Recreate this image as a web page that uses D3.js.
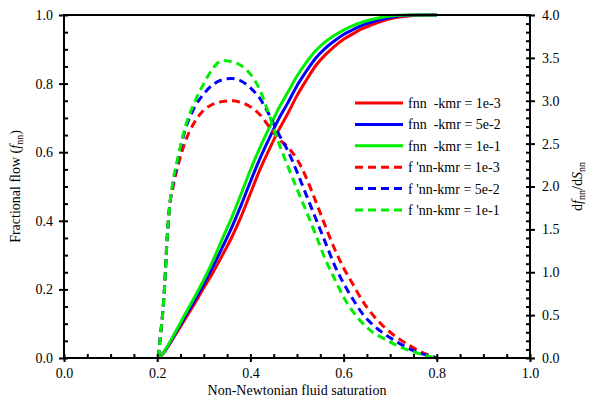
<!DOCTYPE html>
<html>
<head>
<meta charset="utf-8">
<script src="https://cdn.jsdelivr.net/npm/d3@7"></script>
<style>
  html, body { margin: 0; padding: 0; background: #fff; }
</style>
</head>
<body>
<svg id="chart" width="589" height="402"></svg>
<script>
// ---------------- data ----------------
const satSolid = [0.2025,0.21,0.22,0.24,0.26,0.28,0.30,0.32,0.34,0.36,0.38,0.40,0.42,0.44,0.46,0.48,0.50,0.52,0.54,0.56,0.58,0.60,0.62,0.64,0.66,0.68,0.70,0.72,0.74,0.76,0.78,0.80];
const fnn_1e3 = [0,0.009,0.027,0.070,0.114,0.158,0.205,0.250,0.300,0.352,0.412,0.480,0.548,0.607,0.663,0.712,0.765,0.810,0.852,0.883,0.908,0.929,0.945,0.960,0.971,0.981,0.989,0.994,0.997,0.999,1.0,1.0];
const fnn_5e2 = [0,0.0095,0.028,0.074,0.121,0.167,0.216,0.267,0.323,0.381,0.445,0.514,0.580,0.639,0.695,0.743,0.794,0.836,0.874,0.902,0.924,0.943,0.957,0.970,0.979,0.987,0.993,0.997,0.999,1.0,1.0,1.0];
const fnn_1e1 = [0,0.010,0.030,0.078,0.128,0.177,0.228,0.285,0.348,0.410,0.478,0.548,0.612,0.670,0.726,0.774,0.822,0.862,0.896,0.921,0.940,0.956,0.969,0.979,0.987,0.993,0.997,0.999,1.0,1.0,1.0,1.0];

const satDeriv = [0.2025,0.2046,0.2117,0.2167,0.2203,0.2253,0.235,0.245,0.26,0.28,0.30,0.32,0.34,0.36,0.38,0.40,0.42,0.44,0.46,0.48,0.50,0.52,0.54,0.56,0.58,0.60,0.62,0.64,0.66,0.68,0.70,0.72,0.74,0.76,0.78,0.80];
const dfnn_1e3 = [0,0.13,0.52,0.91,1.30,1.69,2.02,2.25,2.52,2.75,2.89,2.96,2.99,3.00,2.98,2.93,2.84,2.70,2.56,2.46,2.32,2.10,1.83,1.55,1.28,1.05,0.86,0.67,0.52,0.40,0.30,0.22,0.15,0.09,0.04,0];
const dfnn_5e2 = [0,0.13,0.52,0.91,1.30,1.69,2.06,2.33,2.66,2.92,3.08,3.19,3.245,3.26,3.23,3.15,3.03,2.84,2.62,2.42,2.17,1.90,1.63,1.36,1.09,0.87,0.685,0.52,0.40,0.31,0.235,0.17,0.11,0.065,0.03,0];
const dfnn_1e1 = [0,0.13,0.52,0.91,1.30,1.69,2.09,2.35,2.69,2.98,3.20,3.38,3.47,3.455,3.41,3.31,3.13,2.84,2.52,2.24,1.97,1.71,1.44,1.16,0.93,0.71,0.54,0.41,0.31,0.245,0.185,0.132,0.09,0.055,0.025,0];

const legendLabels = ["fnn  -kmr = 1e-3","fnn  -kmr = 5e-2","fnn  -kmr = 1e-1","f 'nn-kmr = 1e-3","f 'nn-kmr = 5e-2","f 'nn-kmr = 1e-1"];
const xTicks = [0,0.2,0.4,0.6,0.8,1.0];
const yLeftTicks = [0,0.2,0.4,0.6,0.8,1.0];
const yRightTicks = [0,0.5,1.0,1.5,2.0,2.5,3.0,3.5,4.0];

// ---------------- layout ----------------
const FONT = "Liberation Serif";
const colors = ["#ff0000","#0000ff","#00ee00"];
const L = 64, R = 530, T = 15, B = 358;
const svg = d3.select("#chart").attr("font-family", FONT);
const x = d3.scaleLinear().domain([0,1]).range([L,R]);
const yL = d3.scaleLinear().domain([0,1]).range([B,T]);
const yR = d3.scaleLinear().domain([0,4]).range([B,T]);

const series = [
  {s: satSolid, v: fnn_1e3, y: yL, c: colors[0], dash: null},
  {s: satSolid, v: fnn_5e2, y: yL, c: colors[1], dash: null},
  {s: satSolid, v: fnn_1e1, y: yL, c: colors[2], dash: null},
  {s: satDeriv, v: dfnn_1e3, y: yR, c: colors[0], dash: "8,5"},
  {s: satDeriv, v: dfnn_5e2, y: yR, c: colors[1], dash: "8,5"},
  {s: satDeriv, v: dfnn_1e1, y: yR, c: colors[2], dash: "8,5"}
];

series.forEach(sr => {
  const line = d3.line().x(d => x(d[0])).y(d => sr.y(d[1])).curve(d3.curveMonotoneX);
  svg.append("path")
    .attr("d", line(sr.s.map((s,i) => [s, sr.v[i]])))
    .attr("fill","none").attr("stroke", sr.c).attr("stroke-width", 3)
    .attr("stroke-dasharray", sr.dash);
});

// ---------------- axes ----------------
function minorVals(lo, hi, step) {
  const out = []; const n = Math.round((hi-lo)/step);
  for (let i = 0; i <= n; i++) out.push(+(lo + i*step).toFixed(4));
  return out;
}
function style(g) {
  g.attr("font-family", FONT);
  g.selectAll(".domain").remove();
  g.selectAll("line").attr("stroke","#000").attr("stroke-width",2);
  g.selectAll("text").attr("font-family",FONT).attr("font-size",14).attr("fill","#000");
}
const gx = svg.append("g").attr("transform",`translate(0,${B})`)
  .call(d3.axisBottom(x).tickValues(xTicks).tickFormat(d3.format(".1f")).tickSize(4).tickPadding(6));
style(gx);
const gxIn = svg.append("g").attr("transform",`translate(0,${B})`)
  .call(d3.axisTop(x).tickValues(minorVals(0,1,0.05)).tickSize(4).tickFormat(""));
style(gxIn);
const gyl = svg.append("g").attr("transform",`translate(${L},0)`)
  .call(d3.axisLeft(yL).tickValues(yLeftTicks).tickFormat(d3.format(".1f")).tickSize(5).tickPadding(6));
style(gyl);
const gylIn = svg.append("g").attr("transform",`translate(${L},0)`)
  .call(d3.axisRight(yL).tickValues(minorVals(0,1,0.05)).tickSize(4).tickFormat(""));
style(gylIn);
const gyr = svg.append("g").attr("transform",`translate(${R},0)`)
  .call(d3.axisRight(yR).tickValues(yRightTicks).tickFormat(d3.format(".1f")).tickSize(5).tickPadding(7));
style(gyr);
const gyrIn = svg.append("g").attr("transform",`translate(${R},0)`)
  .call(d3.axisLeft(yR).tickValues(minorVals(0,4,0.1)).tickSize(4).tickFormat(""));
style(gyrIn);

svg.append("path").attr("d",`M${L},${T}H${R}M${L},${B}H${R}M${L},${T-1}V${B+1}M${R},${T-1}V${B+1}`)
  .attr("stroke","#000").attr("stroke-width",2).attr("fill","none");

// ---------------- titles ----------------
svg.append("text").attr("x",(L+R)/2).attr("y",395).attr("text-anchor","middle")
  .attr("font-size",14).text("Non-Newtonian fluid saturation");

const tl = svg.append("text").attr("transform",`translate(20,${(T+B)/2}) rotate(-90)`)
  .attr("text-anchor","middle").attr("font-size",14);
tl.append("tspan").text("Fractional flow (");
tl.append("tspan").attr("font-style","italic").text("f");
tl.append("tspan").attr("font-size",10).attr("dy",3).text("nn");
tl.append("tspan").attr("dy",-3).text(")");

const tr = svg.append("text").attr("transform",`translate(582,${(T+B)/2}) rotate(-90)`)
  .attr("text-anchor","middle").attr("font-size",14);
tr.append("tspan").text("d");
tr.append("tspan").attr("font-style","italic").text("f");
tr.append("tspan").attr("font-size",10).attr("dy",3).text("nn");
tr.append("tspan").attr("dy",-3).text("/d");
tr.append("tspan").attr("font-style","italic").text("S");
tr.append("tspan").attr("font-size",10).attr("dy",3).text("nn");

// ---------------- legend ----------------
const lg = svg.append("g");
legendLabels.forEach((lab,i) => {
  const yy = 103 + i*21.4;
  lg.append("line").attr("x1",355).attr("x2",403).attr("y1",yy).attr("y2",yy)
    .attr("stroke", series[i].c).attr("stroke-width",3).attr("stroke-dasharray", series[i].dash);
  lg.append("text").attr("x",408).attr("y",yy+5).attr("font-size",14)
    .attr("xml:space","preserve").style("white-space","pre").text(lab);
});
</script>
</body>
</html>
